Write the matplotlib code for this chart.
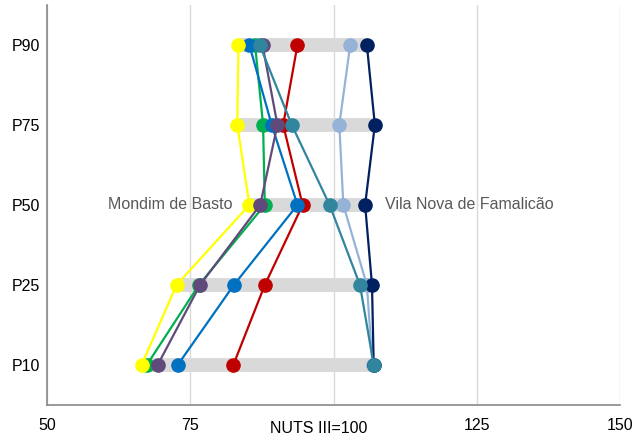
import numpy as np
import matplotlib
matplotlib.use("Agg")
import matplotlib.pyplot as plt
import matplotlib.transforms as mtransforms

plt.rcParams['font.family'] = ['Liberation Sans', 'DejaVu Sans']

# Percentile levels (bottom to top)
levels = ['P10', 'P25', 'P50', 'P75', 'P90']

# Index values per municipality (NUTS III = 100), ordered P10..P90
green = [67.4, 76.5, 88.0, 87.7, 86.3]
red = [82.5, 88.0, 94.6, 91.2, 93.7]
blue = [72.8, 82.6, 93.7, 89.2, 85.3]
mondim = [66.5, 72.6, 85.3, 83.2, 83.4]          # yellow
purple = [69.3, 76.7, 87.2, 90.2, 87.6]
lightblue = [106.8, 105.8, 101.7, 101.0, 102.9]
famalicao = [107.0, 106.7, 105.5, 107.2, 105.8]  # navy
teal = [107.0, 104.6, 99.3, 92.7, 87.1]

series = [
    (green, '#00b050'),
    (red, '#c00000'),
    (blue, '#0070c0'),
    (mondim, '#ffff00'),
    (purple, '#604a7b'),
    (lightblue, '#95b3d7'),
    (famalicao, '#002060'),
    (teal, '#31859c'),
]

fig = plt.figure(figsize=(6.44, 4.36), dpi=100)
ax = fig.add_axes([0.073, 0.071, 0.890, 0.918])

y = np.arange(len(levels))
all_vals = np.array([s for s, _ in series])

# grey range bars
for i in y:
    ax.plot([all_vals[:, i].min(), all_vals[:, i].max()], [i, i],
            color='#d9d9d9', linewidth=10, solid_capstyle='butt', zorder=1)

for vals, col in series:
    ax.plot(vals, y, color=col, linewidth=1.6, marker='o', markersize=9.5,
            zorder=3)

# data labels at P50 (drawn under the gridlines like the original)
ax.annotate('Mondim de Basto', (mondim[2], 2), xytext=(-12, 0),
            textcoords='offset points', ha='right', va='center',
            fontsize=11.5, color='#595959', zorder=0.4)
ax.annotate('Vila Nova de Famalicão', (famalicao[2], 2), xytext=(14, 0),
            textcoords='offset points', ha='left', va='center',
            fontsize=11.5, color='#595959', zorder=0.4)

ax.set_xlim(50, 150)
ax.set_ylim(-0.5, 4.5)
ax.set_yticks(y)
ax.set_yticklabels(levels, fontsize=11.5)
ax.set_xticks([50, 75, 100, 125, 150])
ax.set_xticklabels(['50', '75', '', '125', '150'], fontsize=11.5)
ax.tick_params(axis='x', length=0, pad=9)
ax.tick_params(axis='y', length=0, pad=5)

trans = mtransforms.blended_transform_factory(ax.transData, ax.transAxes)
ax.text(97.4, -0.058, 'NUTS III=100', transform=trans, ha='center',
        va='center', fontsize=11.5)

ax.grid(axis='x', color='#d9d9d9', linewidth=1, zorder=0.5)
ax.set_axisbelow(True)
for sp in ['top', 'right']:
    ax.spines[sp].set_visible(False)
for sp in ['left', 'bottom']:
    ax.spines[sp].set_color('#888888')
    ax.spines[sp].set_linewidth(1.2)

fig.savefig('out.png', dpi=100)
